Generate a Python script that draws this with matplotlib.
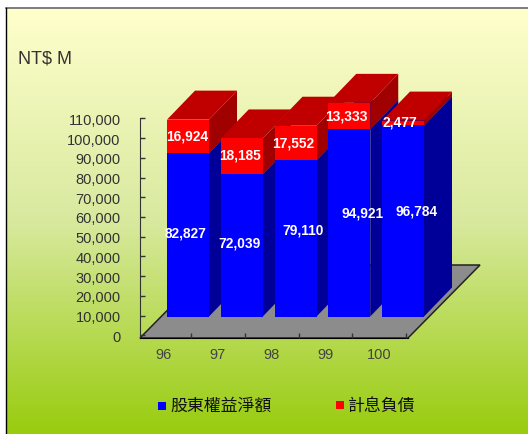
import matplotlib
matplotlib.use('Agg')
import matplotlib.pyplot as plt
import matplotlib.transforms as mtransforms
from matplotlib.patches import Polygon, Rectangle
from matplotlib.colors import LinearSegmentedColormap
from matplotlib.ticker import FuncFormatter
import numpy as np

years = ['96', '97', '98', '99', '100']
equity = [82827, 72039, 79110, 94921, 96784]
debt = [16924, 18185, 17552, 13333, 2477]
y_ticks = list(range(0, 110001, 10000))
legend_names = ['股東權益淨額', '計息負債']

# label nudges in pixels (x, y up), the source chart puts them a bit off centre
equity_nudge = [(-2, 2), (-2, 3), (8, 9), (13, 10), (14, 10)]
debt_nudge = [(-1, 1), (-2, 2), (-2, 1), (-3, 1), (-3, 2)]

W, H = 528, 435
plt.rcParams['font.family'] = ['Liberation Sans', 'Noto Sans CJK TC', 'DejaVu Sans']

fig = plt.figure(figsize=(W / 100, H / 100), dpi=100, facecolor='white')

# pixel coords, y down like the picture
pix = mtransforms.Affine2D().scale(1, -1).translate(0, H)

# background gradient
bg = fig.add_axes([6 / W, 0, (W - 6) / W, (H - 9) / H], zorder=0)
cmap = LinearSegmentedColormap.from_list('bg', [(0, '#FFFFCC'), (0.5, '#D8E99E'), (1, '#99CC0F')])
bg.imshow(np.linspace(0, 1, 256).reshape(-1, 1), aspect='auto', cmap=cmap)
bg.axis('off')
fig.add_artist(plt.Line2D([6, W], [9, 9], color='#666666', lw=1.2, transform=pix))
fig.add_artist(plt.Line2D([6, 6], [9, H], color='black', lw=1, transform=pix))

ax = fig.add_axes([140 / W, (H - 336.4) / H, 268 / W, 217.1 / H], zorder=2)
ax.patch.set_alpha(0)

px_x = 53.75
px_y = 217.1 / 110000
depth_x = 28 / px_x
depth_y = 29 / px_y
bar_w = 42 / px_x

# floor
floor = Polygon([(140, 339), (408, 339), (480, 266), (212, 266)], closed=True,
                facecolor='#8C8C8C', edgecolor='#222222', lw=1.1, transform=pix,
                zorder=1, clip_on=False)
ax.add_patch(floor)

# bars stand 10,000 up and a little left of the axis ticks
front = ax.transData + mtransforms.Affine2D().translate(-3, 18.9)


def box(x, bottom, top, col_front, col_side, col_top, z):
    l = x - bar_w / 2
    r = x + bar_w / 2
    ax.bar(x, top - bottom, bar_w, bottom=bottom, color=col_front, lw=0,
           transform=front, zorder=z + 0.2, clip_on=False)
    ax.add_patch(Polygon([(r, bottom), (r + depth_x, bottom + depth_y),
                          (r + depth_x, top + depth_y), (r, top)],
                         facecolor=col_side, lw=0, transform=front, zorder=z, clip_on=False))
    ax.add_patch(Polygon([(l, top), (r, top), (r + depth_x, top + depth_y),
                          (l + depth_x, top + depth_y)],
                         facecolor=col_top, lw=0, transform=front, zorder=z + 0.1, clip_on=False))


for i in range(len(years)):
    box(i, 0, equity[i], '#0000FF', '#000099', '#000099', 2 + i)
    box(i, equity[i], equity[i] + debt[i], '#FF0000', '#A00000', '#C00000', 2 + i + 0.5)

ax.set_xlim((140 - 191) / 53.75, (408 - 191) / 53.75)
ax.set_ylim(0, 110000)

for i in range(len(years)):
    ax.annotate(f'{equity[i]:,}', (i, equity[i] / 2), xycoords=front,
                xytext=equity_nudge[i], textcoords='offset pixels', ha='center', va='center',
                color='white', fontweight='bold', fontsize=9.9, zorder=20)
    ax.annotate(f'{debt[i]:,}', (i, equity[i] + debt[i] / 2), xycoords=front,
                xytext=debt_nudge[i], textcoords='offset pixels', ha='center', va='center',
                color='white', fontweight='bold', fontsize=9.9, zorder=20)

# axes
for s in ['top', 'right']:
    ax.spines[s].set_visible(False)
ax.spines['bottom'].set_position(('outward', 2))
ax.spines['bottom'].set_zorder(1.5)
ax.spines['left'].set_color('#333333')
ax.spines['left'].set_zorder(1.5)
ax.spines['left'].set_bounds(-1300, 110000)
ax.set_yticks(y_ticks)
ax.yaxis.set_major_formatter(FuncFormatter(lambda v, pos: f'{int(v):,}'))
ax.tick_params(axis='y', direction='in', length=3.5, width=1, color='#333333',
               labelsize=10.5, labelcolor='#333333', pad=14)
ax.set_xticks(range(len(years)))
ax.set_xticklabels(years)
ax.tick_params(axis='x', direction='in', length=3.5, width=1, color='#333333',
               labelsize=10.5, labelcolor='#444444', pad=6.5)
shift = mtransforms.Affine2D().translate(-27, 0)
for lab in ax.get_xticklabels():
    lab.set_transform(lab.get_transform() + shift)

fig.text(18, 59, 'NT$ M', transform=pix, fontsize=13, color='#333333', va='center', ha='left')

# legend
fig.add_artist(Rectangle((158, 403), 8, 8, facecolor='#0000FF', lw=0, transform=pix))
fig.add_artist(Rectangle((336, 402), 8, 8, facecolor='#FF0000', lw=0, transform=pix))
fig.text(170, 406, legend_names[0], transform=pix, fontsize=12.2, color='#111111', va='center', ha='left')
fig.text(348, 406, legend_names[1], transform=pix, fontsize=12.2, color='#111111', va='center', ha='left')

fig.savefig('out.png', dpi=100)
